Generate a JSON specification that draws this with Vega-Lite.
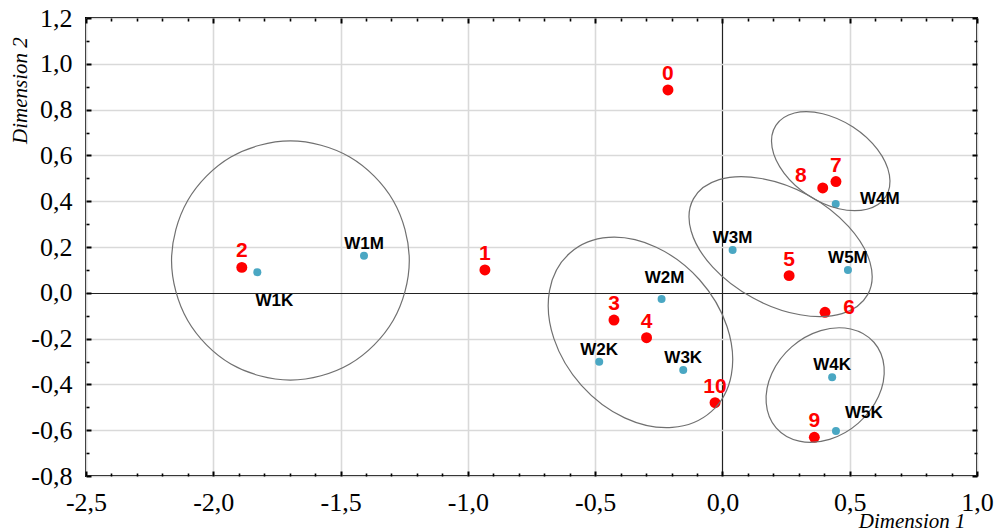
{
  "$schema": "https://vega.github.io/schema/vega-lite/v6.json",
  "width": 891,
  "height": 458,
  "autosize": "none",
  "padding": {"left": 86, "top": 18, "right": 21, "bottom": 55},
  "background": "white",
  "config": {
    "view": {"stroke": "black", "strokeWidth": 2},
    "style": {"guide-label": {"font": "Liberation Serif", "fontSize": 26, "fill": "black"}}
  },
  "datasets": {
    "pts": [
      {"label": "0", "type": "obj", "d1": -0.214, "d2": 0.886},
      {"label": "1", "type": "obj", "d1": -0.933, "d2": 0.100},
      {"label": "2", "type": "obj", "d1": -1.888, "d2": 0.111},
      {"label": "3", "type": "obj", "d1": -0.426, "d2": -0.119},
      {"label": "4", "type": "obj", "d1": -0.298, "d2": -0.196},
      {"label": "5", "type": "obj", "d1": 0.262, "d2": 0.075},
      {"label": "6", "type": "obj", "d1": 0.403, "d2": -0.085},
      {"label": "7", "type": "obj", "d1": 0.446, "d2": 0.486},
      {"label": "8", "type": "obj", "d1": 0.394, "d2": 0.458},
      {"label": "9", "type": "obj", "d1": 0.361, "d2": -0.631},
      {"label": "10", "type": "obj", "d1": -0.029, "d2": -0.480},
      {"label": "W1K", "type": "var", "d1": -1.827, "d2": 0.090},
      {"label": "W1M", "type": "var", "d1": -1.408, "d2": 0.162},
      {"label": "W2M", "type": "var", "d1": -0.239, "d2": -0.027},
      {"label": "W2K", "type": "var", "d1": -0.484, "d2": -0.301},
      {"label": "W3K", "type": "var", "d1": -0.154, "d2": -0.337},
      {"label": "W3M", "type": "var", "d1": 0.040, "d2": 0.187},
      {"label": "W4M", "type": "var", "d1": 0.445, "d2": 0.388},
      {"label": "W5M", "type": "var", "d1": 0.493, "d2": 0.100},
      {"label": "W4K", "type": "var", "d1": 0.431, "d2": -0.369},
      {"label": "W5K", "type": "var", "d1": 0.446, "d2": -0.603}
    ],
    "ell": [
      {"e": "E1", "i": 0, "d1": -1.230, "d2": 0.141},
      {"e": "E1", "i": 1, "d1": -1.293, "d2": 0.402},
      {"e": "E1", "i": 2, "d1": -1.464, "d2": 0.593},
      {"e": "E1", "i": 3, "d1": -1.697, "d2": 0.663},
      {"e": "E1", "i": 4, "d1": -1.931, "d2": 0.593},
      {"e": "E1", "i": 5, "d1": -2.101, "d2": 0.402},
      {"e": "E1", "i": 6, "d1": -2.164, "d2": 0.141},
      {"e": "E1", "i": 7, "d1": -2.101, "d2": -0.120},
      {"e": "E1", "i": 8, "d1": -1.931, "d2": -0.311},
      {"e": "E1", "i": 9, "d1": -1.697, "d2": -0.381},
      {"e": "E1", "i": 10, "d1": -1.464, "d2": -0.311},
      {"e": "E1", "i": 11, "d1": -1.293, "d2": -0.120},
      {"e": "E2", "i": 0, "d1": -0.044, "d2": -0.519},
      {"e": "E2", "i": 1, "d1": -0.197, "d2": -0.588},
      {"e": "E2", "i": 2, "d1": -0.384, "d2": -0.546},
      {"e": "E2", "i": 3, "d1": -0.554, "d2": -0.404},
      {"e": "E2", "i": 4, "d1": -0.662, "d2": -0.200},
      {"e": "E2", "i": 5, "d1": -0.679, "d2": 0.011},
      {"e": "E2", "i": 6, "d1": -0.600, "d2": 0.173},
      {"e": "E2", "i": 7, "d1": -0.447, "d2": 0.242},
      {"e": "E2", "i": 8, "d1": -0.260, "d2": 0.199},
      {"e": "E2", "i": 9, "d1": -0.090, "d2": 0.057},
      {"e": "E2", "i": 10, "d1": 0.018, "d2": -0.147},
      {"e": "E2", "i": 11, "d1": 0.035, "d2": -0.358},
      {"e": "E3", "i": 0, "d1": 0.571, "d2": -0.007},
      {"e": "E3", "i": 1, "d1": 0.470, "d2": -0.091},
      {"e": "E3", "i": 2, "d1": 0.305, "d2": -0.096},
      {"e": "E3", "i": 3, "d1": 0.119, "d2": -0.022},
      {"e": "E3", "i": 4, "d1": -0.038, "d2": 0.112},
      {"e": "E3", "i": 5, "d1": -0.123, "d2": 0.270},
      {"e": "E3", "i": 6, "d1": -0.114, "d2": 0.410},
      {"e": "E3", "i": 7, "d1": -0.013, "d2": 0.494},
      {"e": "E3", "i": 8, "d1": 0.152, "d2": 0.499},
      {"e": "E3", "i": 9, "d1": 0.339, "d2": 0.425},
      {"e": "E3", "i": 10, "d1": 0.495, "d2": 0.290},
      {"e": "E3", "i": 11, "d1": 0.580, "d2": 0.132},
      {"e": "E4", "i": 0, "d1": 0.641, "d2": 0.419},
      {"e": "E4", "i": 1, "d1": 0.568, "d2": 0.365},
      {"e": "E4", "i": 2, "d1": 0.457, "d2": 0.367},
      {"e": "E4", "i": 3, "d1": 0.338, "d2": 0.425},
      {"e": "E4", "i": 4, "d1": 0.242, "d2": 0.523},
      {"e": "E4", "i": 5, "d1": 0.195, "d2": 0.635},
      {"e": "E4", "i": 6, "d1": 0.210, "d2": 0.731},
      {"e": "E4", "i": 7, "d1": 0.283, "d2": 0.785},
      {"e": "E4", "i": 8, "d1": 0.394, "d2": 0.782},
      {"e": "E4", "i": 9, "d1": 0.513, "d2": 0.724},
      {"e": "E4", "i": 10, "d1": 0.609, "d2": 0.626},
      {"e": "E4", "i": 11, "d1": 0.656, "d2": 0.514},
      {"e": "E5", "i": 0, "d1": 0.595, "d2": -0.216},
      {"e": "E5", "i": 1, "d1": 0.635, "d2": -0.324},
      {"e": "E5", "i": 2, "d1": 0.613, "d2": -0.453},
      {"e": "E5", "i": 3, "d1": 0.534, "d2": -0.569},
      {"e": "E5", "i": 4, "d1": 0.421, "d2": -0.640},
      {"e": "E5", "i": 5, "d1": 0.302, "d2": -0.648},
      {"e": "E5", "i": 6, "d1": 0.211, "d2": -0.590},
      {"e": "E5", "i": 7, "d1": 0.172, "d2": -0.481},
      {"e": "E5", "i": 8, "d1": 0.194, "d2": -0.352},
      {"e": "E5", "i": 9, "d1": 0.272, "d2": -0.236},
      {"e": "E5", "i": 10, "d1": 0.386, "d2": -0.165},
      {"e": "E5", "i": 11, "d1": 0.504, "d2": -0.158}
    ]
  },
  "layer": [
    {
      "data": {"name": "pts"},
      "mark": {"type": "circle", "opacity": 1, "stroke": null},
      "encoding": {
        "x": {"field": "d1", "type": "quantitative",
          "scale": {"domain": [-2.5, 1.0], "nice": false, "zero": false},
          "axis": {"orient": "bottom", "title": "Dimension 1", "titleFont": "Liberation Serif", "titleFontStyle": "italic", "titleFontWeight": "normal", "titleFontSize": 21, "titleColor": "black",
            "titleX": 879, "titleY": 51, "titleAlign": "right", "titleBaseline": "alphabetic", "titleAnchor": "end",
            "values": [-2.5,-2.0,-1.5,-1.0,-0.5,0,0.5,1.0],
            "labelExpr": "replace(replace(format(datum.value,'.1f'),'.',','),'\u2212','-')",
            "labelFont": "Liberation Serif", "labelFontSize": 26, "labelColor": "black", "labelFontWeight": "normal",
            "labelOverlap": false, "labelFlush": false, "labelBound": false, "labelPadding": 13,
            "domain": false, "ticks": false,
            "grid": true,
            "gridColor": {"condition": {"test": "abs(datum.value)<0.001", "value": "#222222"}, "value": "#d9d9d9"},
            "gridWidth": {"condition": {"test": "abs(datum.value)<0.001", "value": 1.2}, "value": 1.6}
          }
        },
        "y": {"field": "d2", "type": "quantitative",
          "scale": {"domain": [-0.8, 1.2], "nice": false, "zero": false},
          "axis": {"orient": "left", "title": "Dimension 2", "titleFont": "Liberation Serif", "titleFontStyle": "italic", "titleFontWeight": "normal", "titleFontSize": 21, "titleColor": "black",
            "titleX": -66, "titleY": 72, "titleAngle": -90, "titleAlign": "center", "titleBaseline": "middle", "titleAnchor": "start",
            "values": [-0.8,-0.6,-0.4,-0.2,0,0.2,0.4,0.6,0.8,1.0,1.2],
            "labelExpr": "replace(replace(format(datum.value,'.1f'),'.',','),'\u2212','-')",
            "labelFont": "Liberation Serif", "labelFontSize": 26, "labelColor": "black", "labelFontWeight": "normal",
            "labelOverlap": false, "labelFlush": false, "labelBound": false, "labelPadding": 14,
            "domain": false, "ticks": false,
            "grid": true,
            "gridColor": {"condition": {"test": "abs(datum.value)<0.001", "value": "#222222"}, "value": "#d9d9d9"},
            "gridWidth": {"condition": {"test": "abs(datum.value)<0.001", "value": 1.2}, "value": 1.6}
          }
        },
        "color": {"field": "type", "type": "nominal", "scale": {"domain": ["obj", "var"], "range": ["#ff0000", "#4aa7c3"]}, "legend": null},
        "size": {"field": "type", "type": "nominal", "scale": {"domain": ["obj", "var"], "range": [120, 64]}, "legend": null}
      }
    },
    {
      "data": {"name": "ell"},
      "mark": {"type": "line", "interpolate": "cardinal-closed", "stroke": "#707070", "strokeWidth": 1.2},
      "encoding": {
        "x": {"field": "d1", "type": "quantitative",
          "scale": {"domain": [-2.5, 1.0], "nice": false, "zero": false},
          "axis": {"orient": "top", "title": null, "labels": false, "grid": false, "domain": false,
            "values": [-2.5,-2.4,-2.3,-2.2,-2.1,-2.0,-1.9,-1.8,-1.7,-1.6,-1.5,-1.4,-1.3,-1.2,-1.1,-1.0,-0.9,-0.8,-0.7,-0.6,-0.5,-0.4,-0.3,-0.2,-0.1,0,0.1,0.2,0.3,0.4,0.5,0.6,0.7,0.8,0.9,1.0],
            "tickColor": "black",
            "tickSize": {"condition": {"test": "abs(datum.value*2-round(datum.value*2))<0.001", "value": -5}, "value": -3},
            "tickWidth": {"condition": {"test": "abs(datum.value*2-round(datum.value*2))<0.001", "value": 2}, "value": 1.6}
          }
        },
        "y": {"field": "d2", "type": "quantitative",
          "scale": {"domain": [-0.8, 1.2], "nice": false, "zero": false},
          "axis": {"orient": "right", "title": null, "labels": false, "grid": false, "domain": false,
            "values": [-0.8,-0.7,-0.6,-0.5,-0.4,-0.3,-0.2,-0.1,0,0.1,0.2,0.3,0.4,0.5,0.6,0.7,0.8,0.9,1.0,1.1,1.2],
            "tickColor": "black",
            "tickSize": {"condition": {"test": "abs(datum.value*5-round(datum.value*5))<0.001", "value": -5}, "value": -3},
            "tickWidth": {"condition": {"test": "abs(datum.value*5-round(datum.value*5))<0.001", "value": 2}, "value": 1.6}
          }
        },
        "detail": {"field": "e", "type": "nominal"},
        "order": {"field": "i", "type": "quantitative"}
      }
    },
    {
      "data": {"name": "pts"},
      "transform": [{"filter": "indexof(['0','1','2','3','4','5','7','9','10'], datum.label) >= 0"}],
      "mark": {"type": "text", "font": "Liberation Sans", "fontWeight": "bold", "fontSize": 21, "color": "#ff0000", "align": "center", "baseline": "middle", "dy": -16},
      "encoding": {
        "x": {"field": "d1", "type": "quantitative",
          "axis": {"orient": "bottom", "title": null, "labels": false, "grid": false, "domain": false,
            "values": [-2.5,-2.4,-2.3,-2.2,-2.1,-2.0,-1.9,-1.8,-1.7,-1.6,-1.5,-1.4,-1.3,-1.2,-1.1,-1.0,-0.9,-0.8,-0.7,-0.6,-0.5,-0.4,-0.3,-0.2,-0.1,0,0.1,0.2,0.3,0.4,0.5,0.6,0.7,0.8,0.9,1.0],
            "tickColor": "black",
            "tickSize": {"condition": {"test": "abs(datum.value*2-round(datum.value*2))<0.001", "value": -5}, "value": -3},
            "tickWidth": {"condition": {"test": "abs(datum.value*2-round(datum.value*2))<0.001", "value": 2}, "value": 1.6}
          }
        },
        "y": {"field": "d2", "type": "quantitative",
          "axis": {"orient": "left", "title": null, "labels": false, "grid": false, "domain": false,
            "values": [-0.8,-0.7,-0.6,-0.5,-0.4,-0.3,-0.2,-0.1,0,0.1,0.2,0.3,0.4,0.5,0.6,0.7,0.8,0.9,1.0,1.1,1.2],
            "tickColor": "black",
            "tickSize": {"condition": {"test": "abs(datum.value*5-round(datum.value*5))<0.001", "value": -5}, "value": -3},
            "tickWidth": {"condition": {"test": "abs(datum.value*5-round(datum.value*5))<0.001", "value": 2}, "value": 1.6}
          }
        },
        "text": {"field": "label"}
      }
    },
    {
      "data": {"name": "pts"},
      "transform": [{"filter": "datum.label == '8'"}],
      "mark": {"type": "text", "font": "Liberation Sans", "fontWeight": "bold", "fontSize": 21, "color": "#ff0000", "align": "center", "baseline": "middle", "dx": -22, "dy": -12},
      "encoding": {"x": {"field": "d1", "type": "quantitative", "axis": null}, "y": {"field": "d2", "type": "quantitative", "axis": null}, "text": {"field": "label"}}
    },
    {
      "data": {"name": "pts"},
      "transform": [{"filter": "datum.label == '6'"}],
      "mark": {"type": "text", "font": "Liberation Sans", "fontWeight": "bold", "fontSize": 21, "color": "#ff0000", "align": "center", "baseline": "middle", "dx": 24, "dy": -4},
      "encoding": {"x": {"field": "d1", "type": "quantitative", "axis": null}, "y": {"field": "d2", "type": "quantitative", "axis": null}, "text": {"field": "label"}}
    },
    {
      "data": {"name": "pts"},
      "transform": [{"filter": "indexof(['W1M','W2K','W3K','W3M','W5M','W4K'], datum.label) >= 0"}],
      "mark": {"type": "text", "font": "Liberation Sans", "fontWeight": "bold", "fontSize": 17, "color": "black", "align": "center", "baseline": "middle", "dy": -12},
      "encoding": {"x": {"field": "d1", "type": "quantitative", "axis": null}, "y": {"field": "d2", "type": "quantitative", "axis": null}, "text": {"field": "label"}}
    },
    {
      "data": {"name": "pts"},
      "transform": [{"filter": "datum.label == 'W2M'"}],
      "mark": {"type": "text", "font": "Liberation Sans", "fontWeight": "bold", "fontSize": 17, "color": "black", "align": "center", "baseline": "middle", "dx": 3, "dy": -21},
      "encoding": {"x": {"field": "d1", "type": "quantitative", "axis": null}, "y": {"field": "d2", "type": "quantitative", "axis": null}, "text": {"field": "label"}}
    },
    {
      "data": {"name": "pts"},
      "transform": [{"filter": "datum.label == 'W1K'"}],
      "mark": {"type": "text", "font": "Liberation Sans", "fontWeight": "bold", "fontSize": 17, "color": "black", "align": "center", "baseline": "middle", "dx": 17, "dy": 29},
      "encoding": {"x": {"field": "d1", "type": "quantitative", "axis": null}, "y": {"field": "d2", "type": "quantitative", "axis": null}, "text": {"field": "label"}}
    },
    {
      "data": {"name": "pts"},
      "transform": [{"filter": "datum.label == 'W4M'"}],
      "mark": {"type": "text", "font": "Liberation Sans", "fontWeight": "bold", "fontSize": 17, "color": "black", "align": "center", "baseline": "middle", "dx": 44, "dy": -5},
      "encoding": {"x": {"field": "d1", "type": "quantitative", "axis": null}, "y": {"field": "d2", "type": "quantitative", "axis": null}, "text": {"field": "label"}}
    },
    {
      "data": {"name": "pts"},
      "transform": [{"filter": "datum.label == 'W5K'"}],
      "mark": {"type": "text", "font": "Liberation Sans", "fontWeight": "bold", "fontSize": 17, "color": "black", "align": "center", "baseline": "middle", "dx": 28, "dy": -18},
      "encoding": {"x": {"field": "d1", "type": "quantitative", "axis": null}, "y": {"field": "d2", "type": "quantitative", "axis": null}, "text": {"field": "label"}}
    }
  ],
  "resolve": {"axis": {"x": "independent", "y": "independent"}}
}
